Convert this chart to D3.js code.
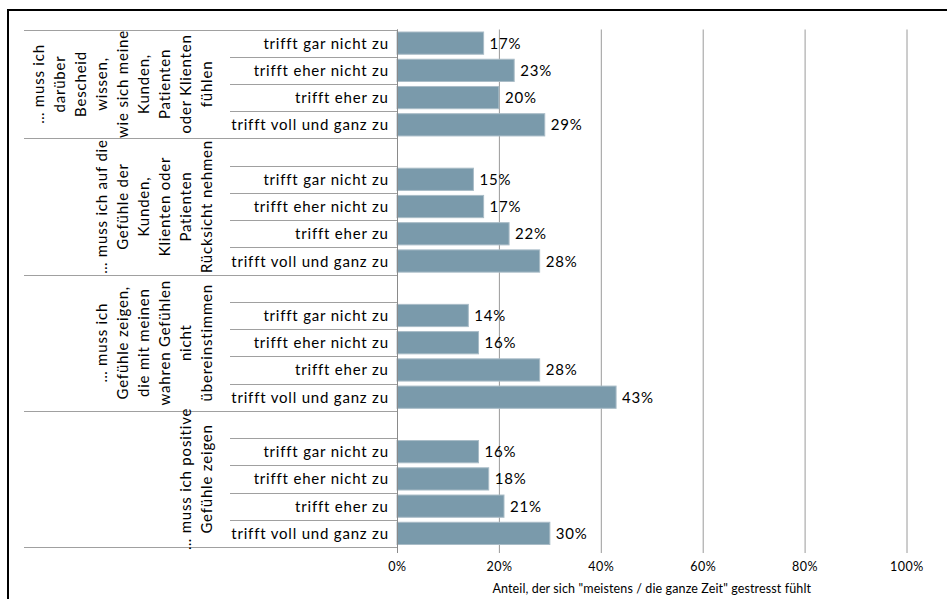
<!DOCTYPE html>
<html>
<head>
<meta charset="utf-8">
<script src="https://cdn.jsdelivr.net/npm/d3@7"></script>
<style>
  html, body { margin: 0; padding: 0; background: #fff; }
  svg { display: block; font-family: Lato, "Open Sans", sans-serif; }
</style>
</head>
<body>
<svg id="chart" width="947" height="599"></svg>
<script>
// Statement groups (multi-line, drawn rotated)
const groupLabels = [
  ["\u2026 muss ich", "darüber", "Bescheid", "wissen,", "wie sich meine", "Kunden,", "Patienten", "oder Klienten", "fühlen"],
  ["\u2026 muss ich auf die", "Gefühle der", "Kunden,", "Klienten oder", "Patienten", "Rücksicht nehmen"],
  ["\u2026 muss ich", "Gefühle zeigen,", "die mit meinen", "wahren Gefühlen", "nicht", "übereinstimmen"],
  ["\u2026 muss ich positive", "Gefühle zeigen"]
];

// Answer categories within each group
const categories = ["trifft gar nicht zu", "trifft eher nicht zu", "trifft eher zu", "trifft voll und ganz zu"];

// Share stressed "most / all of the time" (%), per group
const valuesBescheid = [17, 23, 20, 29];
const valuesRuecksicht = [15, 17, 22, 28];
const valuesUnecht = [14, 16, 28, 43];
const valuesPositiv = [16, 18, 21, 30];
const seriesValues = [valuesBescheid, valuesRuecksicht, valuesUnecht, valuesPositiv];

const xTicks = [0, 20, 40, 60, 80, 100];
const axisTitle = "Anteil, der sich \"meistens / die ganze Zeit\" gestresst fühlt";

// Build the row list: groups after the first get a leading spacer row
const rows = [];
const groupRows = [];
seriesValues.forEach((vals, g) => {
  const keys = [];
  if (g > 0) { const k = `g${g}-spacer`; rows.push({ key: k, spacer: true, group: g }); keys.push(k); }
  categories.forEach((c, i) => {
    const k = `g${g}-${i}`;
    rows.push({ key: k, group: g, label: c, value: vals[i] });
    keys.push(k);
  });
  groupRows.push(keys);
});

const svg = d3.select("#chart");
const plot = { left: 397, right: 906.5, top: 29.5, bottom: 547 };
const tableLeft = 24;
const catColLeft = 230;
const labelSize = 15;
const labelSpacing = 0.8;

const x = d3.scaleLinear().domain([0, 100]).range([plot.left, plot.right]);
const y = d3.scaleBand().domain(rows.map(r => r.key)).range([plot.top, plot.bottom]).paddingInner(0).paddingOuter(0);
const barPad = 2.5;

// Outer frame (left and top edges visible)
svg.append("path")
  .attr("d", `M8,599 V10 H947`)
  .attr("fill", "none").attr("stroke", "#000").attr("stroke-width", 2);

// Vertical gridlines + ticks below the plot
svg.append("g")
  .attr("transform", `translate(0,${plot.bottom})`)
  .call(d3.axisBottom(x).tickValues(xTicks).tickSize(-(plot.bottom - plot.top)).tickFormat(""))
  .call(g => g.select(".domain").remove())
  .call(g => g.selectAll(".tick line").attr("stroke", "#9a9a9a").attr("stroke-width", 1).attr("y2", -(plot.bottom - plot.top)).attr("y1", 6));

// Tick labels
svg.append("g")
  .attr("transform", `translate(0,${plot.bottom})`)
  .call(d3.axisBottom(x).tickValues(xTicks).tickSize(0).tickPadding(0).tickFormat(d => d + "%"))
  .call(g => g.select(".domain").remove())
  .call(g => g.selectAll(".tick text").attr("y", 24).attr("dy", 0)
    .attr("font-family", "Lato, sans-serif").attr("font-size", 12.5)
    .attr("letter-spacing", 0.5).attr("fill", "#000"));

// Axis title
svg.append("text")
  .attr("x", (plot.left + plot.right) / 2).attr("y", 593)
  .attr("text-anchor", "middle").attr("font-size", 12.5).attr("letter-spacing", 0.12)
  .attr("fill", "#000")
  .text(axisTitle);

// Table rules in the label area
const rules = svg.append("g").attr("stroke", "#a0a0a0").attr("stroke-width", 1);
rows.forEach((r, i) => {
  const yTop = Math.round(y(r.key)) + 0.5;
  const isGroupStart = (i === 0) || r.spacer;
  rules.append("line")
    .attr("x1", isGroupStart ? tableLeft : catColLeft).attr("x2", plot.left)
    .attr("y1", yTop).attr("y2", yTop);
});
rules.append("line")
  .attr("x1", tableLeft).attr("x2", plot.left)
  .attr("y1", plot.bottom + 0.5).attr("y2", plot.bottom + 0.5);

// Bars
const dataRows = rows.filter(r => !r.spacer);
svg.append("g").selectAll("rect").data(dataRows).join("rect")
  .attr("x", x(0))
  .attr("y", d => y(d.key) + barPad)
  .attr("width", d => x(d.value) - x(0))
  .attr("height", y.bandwidth() - 2 * barPad)
  .attr("fill", "#7a9aab")
  .attr("stroke", "#a9bcc7").attr("stroke-width", 1);

// Category axis line
svg.append("line")
  .attr("x1", plot.left + 0.5).attr("x2", plot.left + 0.5)
  .attr("y1", plot.top).attr("y2", plot.bottom + 6)
  .attr("stroke", "#8a8a8a").attr("stroke-width", 1);

// Value labels
svg.append("g").selectAll("text").data(dataRows).join("text")
  .attr("x", d => x(d.value) + 6)
  .attr("y", d => y(d.key) + y.bandwidth() / 2 + 5.5)
  .attr("font-size", labelSize).attr("letter-spacing", labelSpacing).attr("fill", "#000")
  .text(d => d.value + "%");

// Category labels (right-aligned; trailing spacing compensated)
svg.append("g").selectAll("text").data(dataRows).join("text")
  .attr("x", 388 + labelSpacing)
  .attr("y", d => y(d.key) + y.bandwidth() / 2 + 5.5)
  .attr("text-anchor", "end")
  .attr("font-size", labelSize).attr("letter-spacing", labelSpacing).attr("fill", "#000")
  .text(d => d.label);

// Rotated group labels, bottom-aligned against the category column
const lineStep = 21;
const lastBaseline = 212;
groupLabels.forEach((lines, g) => {
  const keys = groupRows[g];
  const yTop = g === 0 ? plot.top : y(keys[0]);
  const yBot = y(keys[keys.length - 1]) + y.bandwidth();
  const cy = (yTop + yBot) / 2;
  const t = svg.append("g").attr("transform", `translate(${lastBaseline},${cy}) rotate(-90)`);
  lines.forEach((ln, i) => {
    t.append("text")
      .attr("x", 0).attr("y", -(lines.length - 1 - i) * lineStep)
      .attr("text-anchor", "middle").attr("font-size", labelSize)
      .attr("letter-spacing", labelSpacing).attr("fill", "#000")
      .text(ln);
  });
});
</script>
</body>
</html>
